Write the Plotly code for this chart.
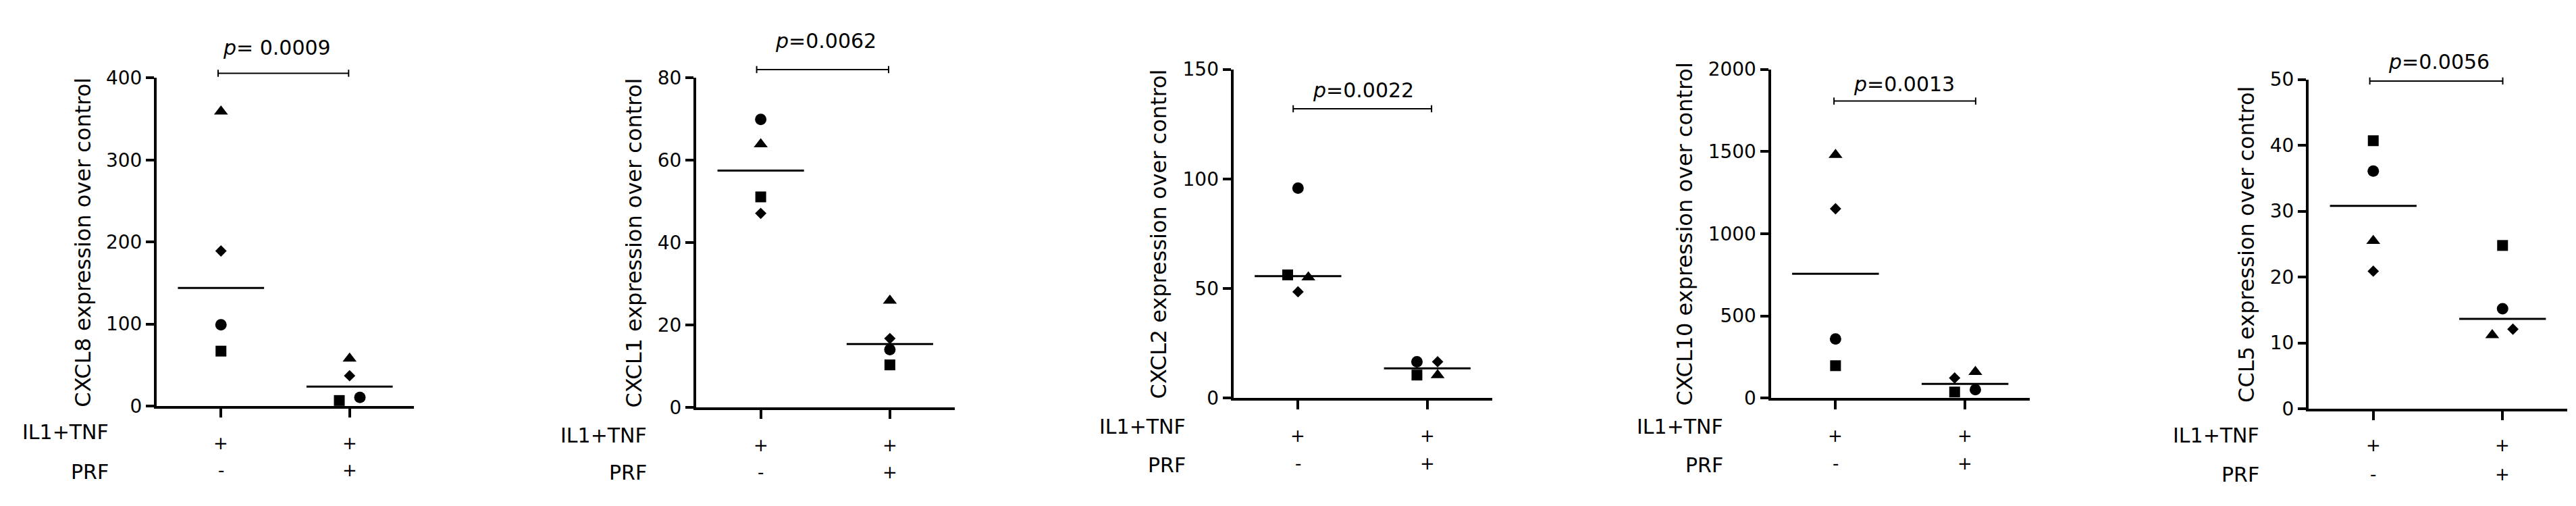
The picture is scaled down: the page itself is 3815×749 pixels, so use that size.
import numpy as np
import plotly.graph_objects as go

W, H = 3815, 749
FONT = "DejaVu Sans"

# ---------------- data ----------------
GENES = ["CXCL8", "CXCL1", "CXCL2", "CXCL10", "CCL5"]
P_LABELS = ["<i>p</i>= 0.0009", "<i>p</i>=0.0062", "<i>p</i>=0.0022",
            "<i>p</i>=0.0013", "<i>p</i>=0.0056"]
ROW_LABELS = ["IL1+TNF", "PRF"]
IL1_TNF = ["+", "+"]
PRF = ["-", "+"]
GROUPS = [0, 1]

# subject order: circle, square, triangle, diamond
CXCL8_CTRL = [99, 67, 359, 189]
CXCL8_PRF = [10.5, 6.8, 58, 37]
CXCL1_CTRL = [69.9, 51.1, 63.9, 47.1]
CXCL1_PRF = [14.0, 10.3, 25.9, 16.7]
CXCL2_CTRL = [95.8, 56.2, 55.1, 48.5]
CXCL2_PRF = [16.6, 10.5, 10.5, 16.6]
CXCL10_CTRL = [360, 197, 1479, 1152]
CXCL10_PRF = [51, 37, 159, 122]
CCL5_CTRL = [36.1, 40.7, 25.5, 20.9]
CCL5_PRF = [15.2, 24.8, 11.2, 12.1]

VALUES = [(CXCL8_CTRL, CXCL8_PRF), (CXCL1_CTRL, CXCL1_PRF), (CXCL2_CTRL, CXCL2_PRF),
          (CXCL10_CTRL, CXCL10_PRF), (CCL5_CTRL, CCL5_PRF)]
Y_MAX = [400, 80, 150, 2000, 50]
Y_DTICK = [100, 20, 50, 500, 10]

# ---------------- style / layout ----------------
SYMBOLS = ["circle", "square", "triangle-up", "diamond"]
SYM_SIZE = {"circle": 17, "square": 16, "triangle-up": 18, "diamond": 13}
JIT_STEP = 0.08
JITTER = [
    ([0, 0, 0, 0], [1, -1, 0, 0]),
    ([0, 0, 0, 0], [0, 0, 0, 0]),
    ([0, -1, 1, 0], [-1, -1, 1, 1]),
    ([0, 0, 0, 0], [1, -1, 1, -1]),
    ([0, 0, 0, 0], [0, 0, -1, 1]),
]
MED_HALF = 0.335

PANELS = [
    dict(x0=222, x1=605, yt=95.5, yb=604.7, tx=115, lr=155, r1l=644.2, r1=660.8, r2l=705.8, r2=703,
         br=(315, 508.3, 88.3), pt=(401.7, 48.8)),
    dict(x0=1021, x1=1405.5, yt=95.5, yb=606.6, tx=931, lr=952, r1l=649.6, r1=664, r2l=707, r2=706,
         br=(1112.6, 1308, 82.6), pt=(1215, 38.2)),
    dict(x0=1816.6, x1=2201.5, yt=82.2, yb=592.3, tx=1708, lr=1749.6, r1l=635.3, r1=649.6, r2l=695, r2=692.6,
         br=(1907.2, 2112.1, 143.3), pt=(2010.8, 114.6)),
    dict(x0=2612.5, x1=2998, yt=82.2, yb=592.3, tx=2487, lr=2546, r1l=635.3, r1=649.6, r2l=695, r2=692.6,
         br=(2708.1, 2917.9, 131.4), pt=(2811.7, 105.1)),
    dict(x0=3409, x1=3794, yt=97.9, yb=609, tx=3319, lr=3340.4, r1l=649.6, r1=664, r2l=709.3, r2=709.3,
         br=(3501.6, 3698.5, 100.3), pt=(3603.8, 70.7)),
]


def px(x):
    return x / W


def py(y):
    return 1 - y / H


fig = go.Figure()
annotations = []
shapes = []
layout = {}

for i, (gene, vals, spec) in enumerate(zip(GENES, VALUES, PANELS)):
    n = "" if i == 0 else str(i + 1)
    xa, ya = "x" + n, "y" + n
    layout["xaxis" + n] = dict(
        domain=[px(spec["x0"] + 2), px(spec["x1"])], anchor=ya,
        range=[-0.5, 1.5], tickvals=GROUPS, showticklabels=False,
        ticks="outside", ticklen=13, tickwidth=4, tickcolor="black",
        showline=True, linewidth=4, linecolor="black",
        showgrid=False, zeroline=False, fixedrange=True)
    layout["yaxis" + n] = dict(
        domain=[py(spec["yb"] - 1), py(spec["yt"])], anchor=xa,
        range=[0, Y_MAX[i]], dtick=Y_DTICK[i], tick0=0,
        ticks="outside", ticklen=12, tickwidth=4, tickcolor="black",
        showline=True, linewidth=4, linecolor="black",
        tickfont=dict(family=FONT, size=28, color="black"),
        showgrid=False, zeroline=False, fixedrange=True)

    for g, (gvals, jit) in enumerate(zip(vals, JITTER[i])):
        xs = [GROUPS[g] + j * JIT_STEP for j in jit]
        fig.add_trace(go.Scatter(
            x=xs, y=gvals, mode="markers", xaxis=xa, yaxis=ya, cliponaxis=False,
            marker=dict(symbol=SYMBOLS, size=[SYM_SIZE[s] for s in SYMBOLS],
                        color="black", opacity=1, line=dict(width=0)),
            hoverinfo="skip"))
        med = float(np.median(gvals))
        fig.add_trace(go.Scatter(
            x=[GROUPS[g] - MED_HALF, GROUPS[g] + MED_HALF], y=[med, med], mode="lines",
            xaxis=xa, yaxis=ya, line=dict(color="black", width=3), hoverinfo="skip"))

    # y title
    annotations.append(dict(
        text=f"{gene} expression over control", textangle=-90,
        x=px(spec["tx"]), y=py((spec["yt"] + spec["yb"]) / 2), xref="paper", yref="paper",
        xanchor="center", yanchor="middle", showarrow=False,
        font=dict(family=FONT, size=32, color="black")))

    # row labels
    for lab, yl in zip(ROW_LABELS, (spec["r1l"], spec["r2l"])):
        annotations.append(dict(
            text=lab, x=px(spec["lr"]), y=py(yl), xref="paper", yref="paper",
            xanchor="right", yanchor="middle", showarrow=False,
            font=dict(family=FONT, size=30, color="black")))
    for row, yr in ((IL1_TNF, spec["r1"]), (PRF, spec["r2"])):
        for g, sign in zip(GROUPS, row):
            annotations.append(dict(
                text=sign, x=g, xref=xa, y=py(yr), yref="paper",
                xanchor="center", yanchor="middle", showarrow=False,
                font=dict(family=FONT, size=26, color="black")))

    # significance bracket
    bx0, bx1, by = spec["br"]
    line = dict(color="black", width=2)
    shapes.append(dict(type="line", xref="paper", yref="paper",
                       x0=px(bx0), x1=px(bx1), y0=py(by), y1=py(by), line=line))
    for bx in (bx0, bx1):
        shapes.append(dict(type="line", xref="paper", yref="paper",
                           x0=px(bx), x1=px(bx), y0=py(by - 5.5), y1=py(by + 5.5), line=line))
    annotations.append(dict(
        text=P_LABELS[i], x=px(spec["pt"][0]), y=py(spec["pt"][1]), xref="paper", yref="paper",
        xanchor="center", yanchor="middle", showarrow=False,
        font=dict(family=FONT, size=30, color="black")))

fig.update_layout(
    width=W, height=H, margin=dict(l=0, r=0, t=0, b=0),
    paper_bgcolor="white", plot_bgcolor="white", showlegend=False,
    annotations=annotations, shapes=shapes, **layout)

fig.write_html("out.html")
